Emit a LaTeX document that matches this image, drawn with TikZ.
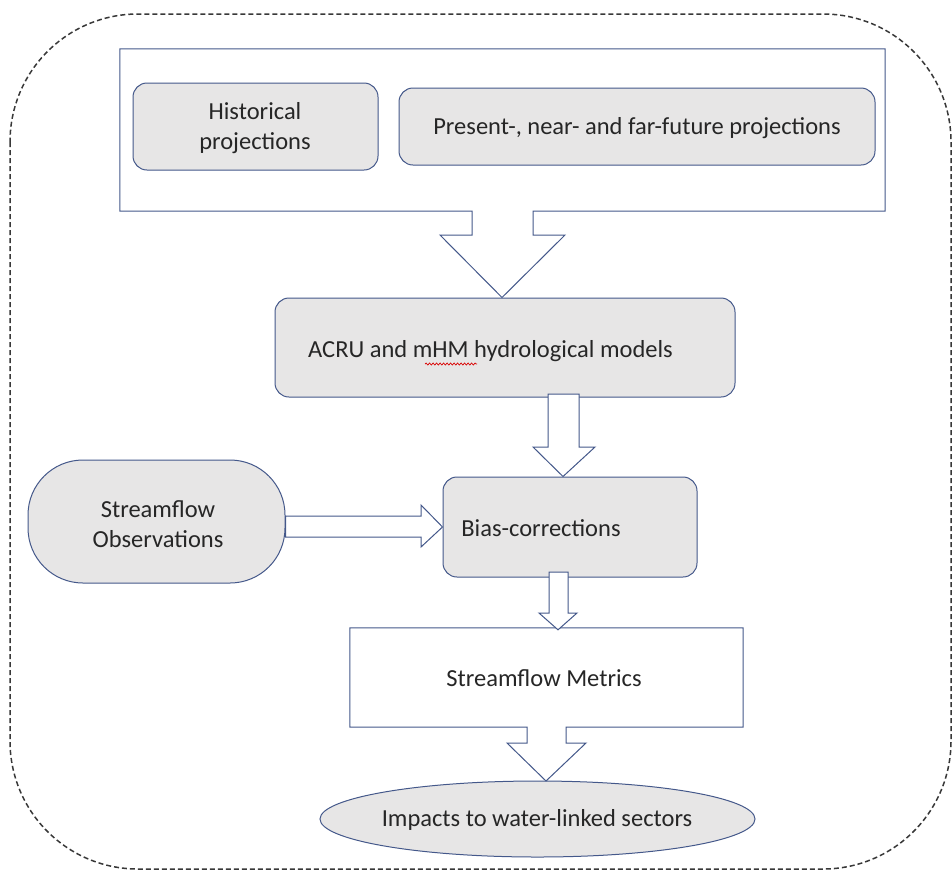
\documentclass[tikz,border=0pt]{standalone}
\usepackage{fontspec}
\setmainfont{Carlito}
\usetikzlibrary{calc,shapes.geometric,decorations.pathmorphing}
\definecolor{edge}{RGB}{68,88,138}
\definecolor{boxfill}{RGB}{231,230,230}
\definecolor{txt}{RGB}{38,38,38}
\begin{document}
\begin{tikzpicture}[x=1pt,y=-1pt,
  gbox/.style={draw=edge,line width=1pt,fill=boxfill,rounded corners=14pt,inner sep=0pt},
  frame/.style={draw=none,inner sep=0pt},
  lbl/.style={font=\fontsize{24.5}{30.5}\selectfont,text=txt,align=center,inner sep=0pt},
  blk/.style={draw=edge,line width=1pt,fill=white,line join=miter}]
\useasboundingbox (0,0) rectangle (952,871);
% outer dashed frame
\draw[dash pattern=on 5pt off 3pt,line width=1.5pt,black!78,rounded corners=128pt] (10,14) rectangle (951,869);

% container at top with notched block arrow
\node[frame,minimum width=765pt,minimum height=162pt] (top) at (502.5,130) {};
\node[gbox,minimum width=460pt,minimum height=99pt] (acru) at (505,347.5) {};
\draw[blk] (top.south west) -- (top.north west) -- (top.north east) -- (top.south east)
  -- (533,211) -- (533,235) -- (565,235) -- ($(acru.north)+(-3,0)$) -- (440,235) -- (472,235) -- (472,211) -- cycle;

\node[gbox,minimum width=245pt,minimum height=87pt] (hist) at (255.5,126.5) {};
\node[gbox,minimum width=476pt,minimum height=77pt] (pres) at (637,126.5) {};
\node[lbl] (histt) at (255,128) {Historical\\projections};
\node[lbl] (prest) at (637,128) {Present-, near- and far-future projections};

\node[lbl,anchor=west] (acrut) at (308,351) {ACRU and mHM hydrological models};
\draw[red!85!black,line width=0.7pt,decorate,decoration={snake,amplitude=1pt,segment length=3.5pt}] (425,364) -- (477,364);

\node[gbox,minimum width=254pt,minimum height=100pt] (bias) at (570,527) {};
\node[lbl] (biast) at (541,528) {Bias-corrections};

\node[gbox,rounded corners=55pt,minimum width=257pt,minimum height=123pt] (obs) at (156.5,521.5) {};
\node[lbl] (obst) at (158,524) {Streamflow\\Observations};

% arrow ACRU -> Bias
\draw[blk] (548,394) -- (579,394) -- (579,447) -- (595,447) -- ($(bias.north)+(-7,0)$) -- (533,447) -- (548,447) -- cycle;
% arrow Obs -> Bias
\draw[blk] ($(obs.east)+(0,-5.5)$) -- (421,516) -- (421,505) -- (bias.west) -- (421,547) -- (421,537) -- ($(obs.east)+(0,15.5)$) -- cycle;

% metrics box with notched arrow
\node[frame,minimum width=393pt,minimum height=99pt] (met) at (546.5,677.5) {};
\node[draw=edge,line width=1pt,fill=boxfill,ellipse,inner sep=0pt,minimum width=435pt,minimum height=76pt] (imp) at (537.5,819) {};
\draw[blk] (met.north west) -- (met.north east) -- (met.south east) -- (566,727) -- (566,743) -- (586,743)
  -- (546,781) -- (507,743) -- (527,743) -- (527,727) -- (met.south west) -- cycle;
\node[lbl] (mett) at (544,678) {Streamflow Metrics};
\node[lbl] (impt) at (537,820) {Impacts to water-linked sectors};

% arrow Bias -> Metrics
\draw[blk] (549,572) -- (568,572) -- (568,613) -- (577,613) -- ($(met.north)+(11.5,2)$) -- (539,613) -- (549,613) -- cycle;
\end{tikzpicture}
\end{document}
